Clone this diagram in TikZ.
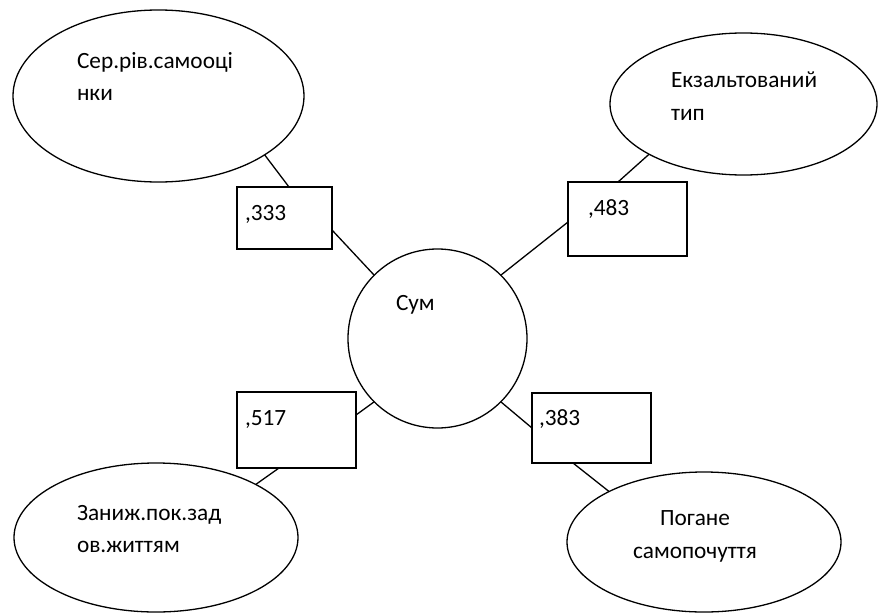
\documentclass[tikz,border=0pt]{standalone}
\usepackage{fontspec}
\setmainfont{Carlito}
\usetikzlibrary{shapes.geometric}
\begin{document}
\begin{tikzpicture}[x=1pt,y=-1pt,
  every node/.style={inner sep=0pt,outer sep=0pt},
  oval/.style={draw,ellipse,line width=1.3pt},
  valbox/.style={draw,rectangle,line width=1.3pt},
  lbl/.style={anchor=base west,font=\fontsize{23.3}{28}\selectfont},
  link/.style={line width=1.3pt}]
\useasboundingbox (0,0) rectangle (878,613);
% central circle
\node[draw,circle,line width=1.3pt,minimum size=179pt] (c) at (437.5,338.5) {};
\node[lbl] (ct) at (396,310) {Сум};
% ellipses
\node[oval,minimum width=291pt,minimum height=172pt] (e1) at (158.5,96) {};
\node[oval,minimum width=267pt,minimum height=142pt] (e2) at (743.5,104) {};
\node[oval,minimum width=284pt,minimum height=149pt] (e3) at (156,537.5) {};
\node[oval,minimum width=274pt,minimum height=140pt] (e4) at (704,542) {};
\node[lbl] (t1a) at (77,68) {Сер.рів.самооці};
\node[lbl] (t1b) at (77,100) {нки};
\node[lbl] (t2a) at (671,87) {Екзальтований};
\node[lbl] (t2b) at (671,120) {тип};
\node[lbl] (t3a) at (77,520) {Заниж.пок.зад};
\node[lbl] (t3b) at (77,552) {ов.життям};
\node[lbl,anchor=base] (t4a) at (695,525) {Погане};
\node[lbl,anchor=base] (t4b) at (695,558) {самопочуття};
% value boxes
\node[valbox,minimum width=95pt,minimum height=62pt] (b1) at (284.5,218) {};
\node[valbox,minimum width=119pt,minimum height=74pt] (b2) at (627.5,219) {};
\node[valbox,minimum width=119pt,minimum height=76pt] (b3) at (296.5,430) {};
\node[valbox,minimum width=119pt,minimum height=70pt] (b4) at (591.5,428) {};
\node[lbl] (v1) at (245,220) {,333};
\node[lbl] (v2) at (588,215) {,483};
\node[lbl] (v3) at (245,425) {,517};
\node[lbl] (v4) at (539,425) {,383};
% connectors
\draw[link] (e1.-29.6) -- ([xshift=4.5pt]b1.north);
\draw[link] ([yshift=-12pt]b1.east) -- (c.135);
\draw[link] (e2.208.6) -- ([xshift=-9.5pt]b2.north);
\draw[link] ([yshift=-3pt]b2.west) -- (c.45);
\draw[link] (e3.28) -- ([xshift=-17.5pt]b3.south);
\draw[link] ([yshift=15pt]b3.east) -- (c.225);
\draw[link] (e4.152.7) -- ([xshift=-18.5pt]b4.south);
\draw[link] (b4.west) -- (c.315);
\end{tikzpicture}
\end{document}
